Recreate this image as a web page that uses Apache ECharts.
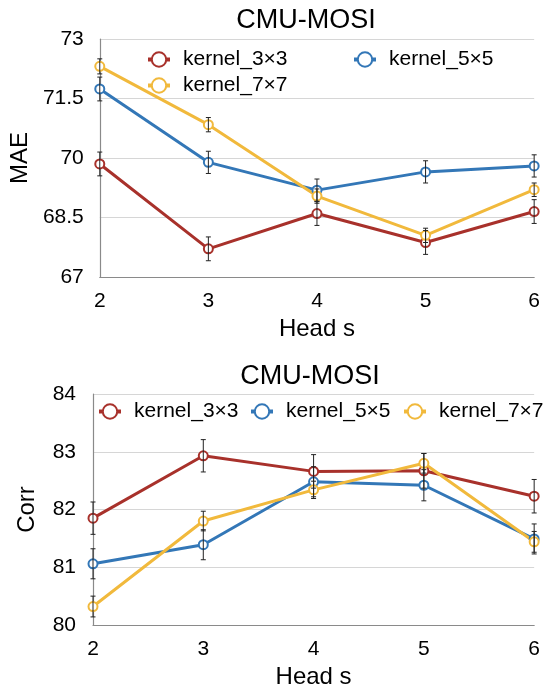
<!DOCTYPE html>
<html>
<head>
<meta charset="utf-8">
<script src="https://cdn.jsdelivr.net/npm/echarts@6/dist/echarts.min.js"></script>
<style>html,body{margin:0;padding:0;background:#fff;}#c{width:543px;height:690px;}</style>
</head>
<body>
<div id="c"></div>
<script>
// ---- data ----
var heads = [2, 3, 4, 5, 6];
var seriesNames = ['kernel_3×3', 'kernel_5×5', 'kernel_7×7'];
var maeK3 = [69.85, 67.71, 68.60, 67.87, 68.65];
var maeK5 = [71.74, 69.89, 69.19, 69.65, 69.80];
var maeK7 = [72.31, 70.84, 69.04, 68.05, 69.20];
var maeErrK3 = [0.30, 0.30, 0.30, 0.30, 0.30];
var maeErrK5 = [0.30, 0.28, 0.28, 0.28, 0.28];
var maeErrK7 = [0.19, 0.18, 0.18, 0.18, 0.17];
var corrK3 = [81.85, 82.93, 82.66, 82.67, 82.23];
var corrK5 = [81.06, 81.39, 82.48, 82.42, 81.49];
var corrK7 = [80.32, 81.80, 82.34, 82.80, 81.44];
var corrErrK3 = [0.28, 0.28, 0.29, 0.30, 0.29];
var corrErrK5 = [0.26, 0.26, 0.26, 0.27, 0.26];
var corrErrK7 = [0.18, 0.17, 0.15, 0.17, 0.18];
var maeTicks = [67, 68.5, 70, 71.5, 73];
var corrTicks = [80, 81, 82, 83, 84];
var titleText = 'CMU-MOSI';

// ---- styling ----
var colors = ['#A8312B', '#3377B7', '#F1B93C'];
var FONT = 'Liberation Sans, Arial, Helvetica, sans-serif';

function pairs(vals) { return heads.map(function (h, i) { return [h, vals[i]]; }); }
function errData(vals, errs) { return heads.map(function (h, i) { return [h, vals[i] - errs[i], vals[i] + errs[i]]; }); }

function lineSeries(name, vals, ci, gi) {
  return {
    type: 'line', name: name, data: pairs(vals), xAxisIndex: gi, yAxisIndex: gi,
    symbol: 'emptyCircle', symbolSize: 9, showAllSymbol: true,
    lineStyle: { color: colors[ci], width: 3 },
    itemStyle: { color: colors[ci], borderColor: colors[ci], borderWidth: 3 },
    z: 3, animation: false
  };
}
function errSeries(vals, errs, gi) {
  return {
    type: 'custom', xAxisIndex: gi, yAxisIndex: gi, data: errData(vals, errs), z: 10, silent: true,
    animation: false,
    renderItem: function (params, api) {
      var x = api.value(0);
      var p1 = api.coord([x, api.value(1)]);
      var p2 = api.coord([x, api.value(2)]);
      var st = { stroke: '#222', lineWidth: 1 };
      var c = 2.5;
      return { type: 'group', children: [
        { type: 'line', shape: { x1: p1[0], y1: p1[1], x2: p2[0], y2: p2[1] }, style: st },
        { type: 'line', shape: { x1: p1[0] - c, y1: p1[1], x2: p1[0] + c, y2: p1[1] }, style: st },
        { type: 'line', shape: { x1: p2[0] - c, y1: p2[1], x2: p2[0] + c, y2: p2[1] }, style: st }
      ] };
    }
  };
}
function legendAt(name, left, top) {
  return {
    data: [name], left: left, top: top, orient: 'horizontal',
    itemWidth: 22, itemHeight: 18, padding: 0,
    itemStyle: { borderWidth: 4 },
    lineStyle: { width: 4 },
    textStyle: { fontSize: 21, color: '#000', fontFamily: FONT, padding: [0, 0, 0, 8] },
    selectedMode: false
  };
}

var xAxisBase = function (gi) {
  return {
    type: 'value', gridIndex: gi, min: 2, max: 6, interval: 1,
    name: 'Head s', nameLocation: 'middle', nameGap: 40,
    nameTextStyle: { fontSize: 24, color: '#000', fontFamily: FONT },
    axisLine: { show: true, lineStyle: { color: '#8a8a8a', width: 1.2 } },
    axisTick: { show: false },
    axisLabel: { fontSize: 21, color: '#000', fontFamily: FONT, margin: 14 },
    splitLine: { show: false }
  };
};

var option = {
  backgroundColor: '#ffffff',
  animation: false,
  grid: [
    { left: 84, right: 4, top: 39, bottom: 413 },
    { left: 93, right: 4, top: 394, bottom: 63 }
  ],
  xAxis: [xAxisBase(0), xAxisBase(1)],
  yAxis: [
    {
      type: 'value', gridIndex: 0, min: maeTicks[0], max: maeTicks[maeTicks.length - 1],
      name: 'MAE', nameLocation: 'middle', nameGap: 47,
      nameTextStyle: { fontSize: 24, color: '#000', fontFamily: FONT },
      axisLine: { show: true, lineStyle: { color: '#8a8a8a', width: 1.2 } },
      axisTick: { show: false, customValues: maeTicks },
      axisLabel: { fontSize: 21, color: '#000', fontFamily: FONT, margin: 16, customValues: maeTicks },
      splitLine: { show: true, lineStyle: { color: '#d6d6d6', width: 1.2 } }
    },
    {
      type: 'value', gridIndex: 1, min: corrTicks[0], max: corrTicks[corrTicks.length - 1], interval: 1,
      name: 'Corr', nameLocation: 'middle', nameGap: 54,
      nameTextStyle: { fontSize: 24, color: '#000', fontFamily: FONT },
      axisLine: { show: true, lineStyle: { color: '#8a8a8a', width: 1.2 } },
      axisTick: { show: false },
      axisLabel: { fontSize: 21, color: '#000', fontFamily: FONT, margin: 17 },
      splitLine: { show: true, lineStyle: { color: '#d6d6d6', width: 1.2 } }
    }
  ],
  legend: [
    legendAt(seriesNames[0], 146, 49),
    legendAt(seriesNames[1], 352, 49),
    legendAt(seriesNames[2], 146, 75),
    legendAt(seriesNames[0], 97, 401),
    legendAt(seriesNames[1], 249, 401),
    legendAt(seriesNames[2], 402, 401)
  ],
  graphic: [
    { type: 'text', x: 306, y: 21, style: { text: titleText, font: '27px ' + FONT, fill: '#000', align: 'center', verticalAlign: 'middle' } },
    { type: 'text', x: 310, y: 377, style: { text: titleText, font: '27px ' + FONT, fill: '#000', align: 'center', verticalAlign: 'middle' } }
  ],
  series: [
    lineSeries(seriesNames[0], maeK3, 0, 0),
    lineSeries(seriesNames[1], maeK5, 1, 0),
    lineSeries(seriesNames[2], maeK7, 2, 0),
    errSeries(maeK3, maeErrK3, 0),
    errSeries(maeK5, maeErrK5, 0),
    errSeries(maeK7, maeErrK7, 0),
    lineSeries(seriesNames[0], corrK3, 0, 1),
    lineSeries(seriesNames[1], corrK5, 1, 1),
    lineSeries(seriesNames[2], corrK7, 2, 1),
    errSeries(corrK3, corrErrK3, 1),
    errSeries(corrK5, corrErrK5, 1),
    errSeries(corrK7, corrErrK7, 1)
  ]
};

var chart = echarts.init(document.getElementById('c'), null, { renderer: 'canvas' });
chart.setOption(option);
</script>
</body>
</html>
